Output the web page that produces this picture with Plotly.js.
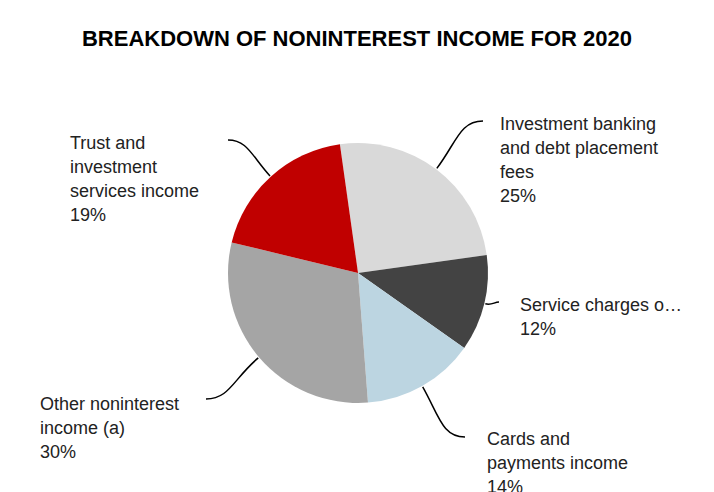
<!DOCTYPE html>
<html><head><meta charset="utf-8">
<script src="https://cdn.plot.ly/plotly-3.0.1.min.js"></script>
<style>html,body{margin:0;padding:0;background:#fff}</style>
</head><body><div id="chart" style="width:714px;height:492px"></div>
<script>
const categories = ["Investment banking and debt placement fees","Service charges on deposit accounts","Cards and payments income","Other noninterest income (a)","Trust and investment services income"];
const displayLabels = ["Investment banking<br>and debt placement<br>fees","Service charges o…","Cards and<br>payments income","Other noninterest<br>income (a)","Trust and<br>investment<br>services income"];
const values = [25, 12, 14, 30, 19];
const colors = ["#d9d9d9", "#434343", "#bcd5e1", "#a5a5a5", "#c00000"];
const chartTitle = "BREAKDOWN OF NONINTEREST INCOME FOR 2020";

// layout geometry (pixels)
const W = 714, H = 492, CX = 358, CY = 273, R = 130, ROT = -8, LINE = 24;
const labelPos = [
  {x: 500, y: 118, ex: 483, ey: 121},
  {x: 520, y: 299, ex: 499, ey: 302},
  {x: 487, y: 433, ex: 465, ey: 437},
  {x: 40,  y: 398, ex: 206, ey: 399},
  {x: 70,  y: 137, ex: 228, ey: 140}
];
const X = p => p / W, Y = p => 1 - p / H;

const total = values.reduce((a, b) => a + b, 0);
let cum = 0;
const shapes = [], annotations = [];
values.forEach((v, i) => {
  const mid = (ROT + (cum + v / 2) / total * 360) * Math.PI / 180;
  cum += v;
  const dx = Math.sin(mid), dy = -Math.cos(mid);
  const p0x = CX + dx * (R + 1), p0y = CY + dy * (R + 1);
  const lp = labelPos[i];
  const dist = Math.hypot(lp.ex - p0x, lp.ey - p0y);
  const sign = lp.ex > p0x ? 1 : -1;
  const p1x = p0x + dx * dist * 0.5, p1y = p0y + dy * dist * 0.5;
  const p2x = lp.ex - sign * dist * 0.35, p2y = lp.ey;
  shapes.push({
    type: 'path', xref: 'paper', yref: 'paper',
    path: `M ${X(p0x)},${Y(p0y)} C ${X(p1x)},${Y(p1y)} ${X(p2x)},${Y(p2y)} ${X(lp.ex)},${Y(lp.ey)}`,
    line: {color: '#000', width: 1.5}
  });
  const lines = displayLabels[i].split('<br>').concat([Math.round(v / total * 100) + '%']);
  lines.forEach((t, k) => {
    annotations.push({
      xref: 'paper', yref: 'paper', x: X(lp.x - 2), y: Y(lp.y - 6 + k * LINE),
      xanchor: 'left', yanchor: 'top', align: 'left', showarrow: false,
      text: t,
      font: {family: 'Liberation Sans, Arial, sans-serif', size: 18, color: '#222'}
    });
  });
});

const data = [{
  type: 'pie', labels: categories, values: values, sort: false,
  direction: 'clockwise', rotation: ROT,
  marker: {colors: colors, line: {width: 0}},
  textinfo: 'none', hoverinfo: 'label+percent',
  domain: {x: [X(CX - R), X(CX + R)], y: [Y(CY + R), Y(CY - R)]}
}];

const layout = {
  width: W, height: H, margin: {l: 0, r: 0, t: 0, b: 0},
  paper_bgcolor: '#fff', showlegend: false,
  title: {text: chartTitle, x: 0.5, xanchor: 'center', y: Y(38), yanchor: 'middle',
          font: {family: 'Liberation Sans, Arial, sans-serif', size: 22, weight: 700, color: '#000'}},
  shapes: shapes, annotations: annotations
};
Plotly.newPlot('chart', data, layout, {displayModeBar: false, staticPlot: true});
</script></body></html>
